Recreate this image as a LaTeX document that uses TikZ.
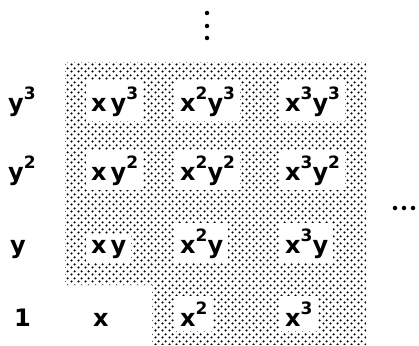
\documentclass[tikz,border=0pt]{standalone}
\usepackage{fontspec}
\setmainfont{DejaVu Sans}
\usepackage{tikz}
\usetikzlibrary{patterns}
\pgfdeclarepatternformonly{halftone}{\pgfqpoint{0pt}{0pt}}{\pgfqpoint{7pt}{7pt}}{\pgfqpoint{7pt}{7pt}}{%
  \pgfpathcircle{\pgfqpoint{1.75pt}{1.75pt}}{1.35pt}%
  \pgfpathcircle{\pgfqpoint{5.25pt}{5.25pt}}{1.35pt}%
  \pgfusepath{fill}}
\newcommand{\mono}[1]{\raisebox{0.5em}{\fontsize{17}{17}\selectfont #1}}

\begin{document}
\begin{tikzpicture}[x=1pt, y=-1pt, font=\fontsize{24}{28}\selectfont\bfseries,
    cell/.style={fill=white, anchor=base west, inner xsep=5pt, inner ysep=5pt},
    axislabel/.style={anchor=base west, inner sep=0pt},
    dot/.style={circle, fill=black, inner sep=0pt, minimum size=4.5pt}]
  \useasboundingbox (0,0) rectangle (419,345);
  % shaded part
  \fill[pattern=halftone] (65,62) -- (366,62) -- (366,345) -- (152,345)
    -- (152,285) -- (65,285) -- cycle;
  % left column
  \node[axislabel] (y3) at (8,111) {y\mono{3}};
  \node[axislabel] (y2) at (8,180) {y\mono{2}};
  \node[axislabel] (y1) at (10,253) {y};
  \node[axislabel] (one) at (14,326) {1};
  % monomials
  \node[cell] (xy3)  at (86,111)  {x\,y\mono{3}};
  \node[cell] (x2y3) at (175,111) {x\mono{2}y\mono{3}};
  \node[cell] (x3y3) at (280,111) {x\mono{3}y\mono{3}};
  \node[cell] (xy2)  at (86,180)  {x\,y\mono{2}};
  \node[cell] (x2y2) at (175,180) {x\mono{2}y\mono{2}};
  \node[cell] (x3y2) at (280,180) {x\mono{3}y\mono{2}};
  \node[cell] (xy)   at (86,253)  {x\,y};
  \node[cell] (x2y)  at (175,253) {x\mono{2}y};
  \node[cell] (x3y)  at (280,253) {x\mono{3}y};
  \node[axislabel] (x1) at (93,326) {x};
  \node[cell] (x2)   at (175,326) {x\mono{2}};
  \node[cell] (x3)   at (280,326) {x\mono{3}};
  % dots
  \foreach \t in {13,26,38}
    \node[dot] at (207,\t) {};
  \foreach \t in {395,404,413}
    \node[dot] at (\t,208) {};
\end{tikzpicture}
\end{document}
